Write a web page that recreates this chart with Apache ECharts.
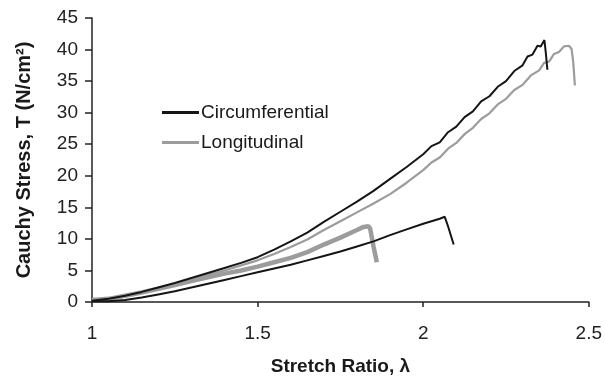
<!DOCTYPE html>
<html>
<head>
<meta charset="utf-8">
<script src="https://cdn.jsdelivr.net/npm/echarts@6/dist/echarts.min.js"></script>
<style>
  html, body { margin: 0; padding: 0; background: #fff; }
  #chart { width: 605px; height: 381px; }
</style>
</head>
<body>
<div id="chart"></div>
<script>
// Stretch ratio (lambda) and Cauchy stress (N/cm^2) for each specimen
const circAStretch = [1.00, 1.05, 1.10, 1.15, 1.20, 1.25, 1.30, 1.35, 1.40, 1.45, 1.50, 1.55, 1.60, 1.65, 1.70, 1.75, 1.80, 1.85, 1.90, 1.95,
  2.000, 2.025, 2.050, 2.075, 2.100, 2.125, 2.150, 2.175, 2.200, 2.225, 2.250, 2.275, 2.300, 2.315, 2.330, 2.345, 2.355, 2.366, 2.370, 2.375];
const circAStress = [0.2, 0.5, 1.0, 1.6, 2.3, 3.0, 3.8, 4.6, 5.4, 6.2, 7.1, 8.3, 9.6, 11.0, 12.7, 14.3, 15.9, 17.6, 19.5, 21.4,
  23.4, 24.7, 25.3, 26.9, 27.8, 29.3, 30.2, 31.8, 32.6, 34.1, 35.0, 36.6, 37.5, 38.9, 39.2, 40.6, 40.5, 41.5, 39.6, 36.8];

const circBStretch = [1.00, 1.05, 1.10, 1.15, 1.20, 1.25, 1.30, 1.35, 1.40, 1.45, 1.50, 1.55, 1.60, 1.65, 1.70, 1.75, 1.80, 1.85, 1.90, 1.95, 2.00, 2.05, 2.065, 2.075, 2.085, 2.092];
const circBStress = [0.1, 0.1, 0.3, 0.7, 1.2, 1.7, 2.3, 2.9, 3.5, 4.1, 4.7, 5.3, 5.9, 6.6, 7.3, 8.0, 8.8, 9.6, 10.6, 11.5, 12.4, 13.2, 13.5, 12.0, 10.3, 9.1];

const longAStretch = [1.00, 1.05, 1.10, 1.15, 1.20, 1.25, 1.30, 1.35, 1.40, 1.45, 1.50, 1.55, 1.60, 1.65, 1.70, 1.75, 1.80, 1.85, 1.90, 1.95,
  2.000, 2.025, 2.050, 2.075, 2.100, 2.125, 2.150, 2.175, 2.200, 2.225, 2.250, 2.275, 2.300, 2.325, 2.350, 2.365, 2.380, 2.395, 2.410, 2.425, 2.440, 2.448, 2.453, 2.458];
const longAStress = [0.2, 0.4, 0.9, 1.5, 2.1, 2.8, 3.5, 4.3, 5.0, 5.8, 6.6, 7.6, 8.7, 9.9, 11.4, 12.8, 14.2, 15.6, 17.1, 18.9,
  20.9, 22.1, 22.9, 24.3, 25.2, 26.6, 27.6, 29.0, 29.9, 31.3, 32.2, 33.6, 34.4, 35.9, 36.7, 37.9, 38.1, 39.3, 39.6, 40.5, 40.6, 40.1, 38.0, 34.3];

const longBStretch = [1.00, 1.05, 1.10, 1.15, 1.20, 1.25, 1.30, 1.35, 1.40, 1.45, 1.50, 1.55, 1.60, 1.65, 1.70, 1.75, 1.80, 1.82, 1.835, 1.84, 1.85, 1.86];
const longBStress = [0.3, 0.5, 1.0, 1.5, 2.1, 2.7, 3.3, 3.9, 4.5, 5.0, 5.6, 6.3, 7.0, 7.9, 9.1, 10.2, 11.4, 11.9, 12.0, 11.6, 8.8, 6.3];

const xTicks = { min: 1, max: 2.5, step: 0.5 };
const yTicks = { min: 0, max: 45, step: 5 };
const legendNames = ['Circumferential', 'Longitudinal'];

const pairs = (xs, ys) => xs.map((x, i) => [x, ys[i]]);

const BLACK = '#151515';
const GREY = '#9c9c9c';
const FONT = '"Liberation Sans", Arial, Helvetica, sans-serif';

const chart = echarts.init(document.getElementById('chart'), null, { renderer: 'canvas' });

const lineSeries = (name, data, color, width) => ({
  name, type: 'line', data, showSymbol: false, symbol: 'none',
  lineStyle: { color, width }, itemStyle: { color },
  animation: false, silent: true
});

chart.setOption({
  backgroundColor: '#ffffff',
  animation: false,
  grid: { left: 92, right: 11, top: 18, bottom: 78.5, containLabel: false },
  legend: {
    data: legendNames,
    orient: 'vertical',
    left: 157, top: 97,
    itemWidth: 37, itemHeight: 3, itemGap: 9,
    icon: 'rect',
    selectedMode: false,
    textStyle: { fontFamily: FONT, fontSize: 19, color: '#1a1a1a', lineHeight: 21, padding: [0, 0, 0, -3] }
  },
  xAxis: {
    type: 'value',
    min: xTicks.min, max: xTicks.max, interval: xTicks.step,
    name: 'Stretch Ratio, λ',
    nameLocation: 'middle', nameGap: 55,
    nameTextStyle: { fontFamily: FONT, fontSize: 19, fontWeight: 'bold', color: '#1a1a1a' },
    axisLine: { lineStyle: { color: '#222', width: 1.5 } },
    axisTick: { inside: false, length: 5, lineStyle: { color: '#222', width: 1.5 } },
    axisLabel: { fontFamily: FONT, fontSize: 19, color: '#222', margin: 22 },
    splitLine: { show: false }
  },
  yAxis: {
    type: 'value',
    min: yTicks.min, max: yTicks.max, interval: yTicks.step,
    name: 'Cauchy Stress, T (N/cm²)',
    nameLocation: 'middle', nameGap: 58,
    nameTextStyle: { fontFamily: FONT, fontSize: 20, fontWeight: 'bold', color: '#1a1a1a' },
    axisLine: { show: true, lineStyle: { color: '#222', width: 1.5 } },
    axisTick: { show: true, inside: false, length: 7, lineStyle: { color: '#222', width: 1.5 } },
    axisLabel: { fontFamily: FONT, fontSize: 19, color: '#222', margin: 14 },
    splitLine: { show: false }
  },
  series: [
    lineSeries('Longitudinal', pairs(longBStretch, longBStress), GREY, 4.5),
    lineSeries('Longitudinal', pairs(longAStretch, longAStress), GREY, 2.2),
    lineSeries('Circumferential', pairs(circBStretch, circBStress), BLACK, 2),
    lineSeries('Circumferential', pairs(circAStretch, circAStress), BLACK, 2)
  ]
});
</script>
</body>
</html>
